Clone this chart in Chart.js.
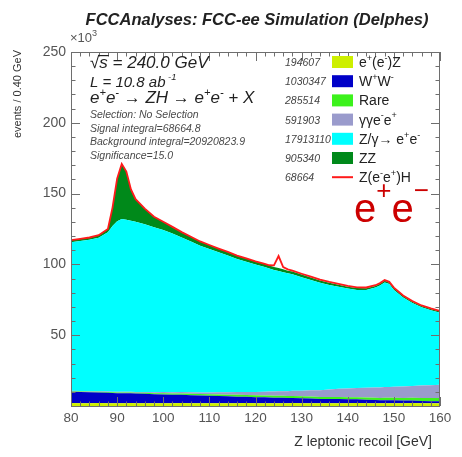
<!DOCTYPE html>
<html>
<head>
<meta charset="utf-8">
<title>Z leptonic recoil</title>
<script src="https://cdn.jsdelivr.net/npm/chart.js@4"></script>
<style>
  html, body { margin: 0; background: #fff; }
  canvas { display: block; }
</style>
</head>
<body>
<canvas id="recoilChart" width="462" height="457"></canvas>
<script>
"use strict";

// ---------------- DATA (events / 0.40 GeV, in units of 10^3) ----------------
const recoil = [
  80, 82, 84, 86, 88,
  89, 90, 91, 92, 93, 94,
  96, 98, 100, 102, 104, 106, 108, 110, 112, 114, 116, 118, 120, 122,
  123, 124, 125, 126, 127, 128,
  130, 132, 134, 136, 138, 140, 142, 144, 146,
  147, 148, 149, 150,
  152, 154, 156, 158, 160,
];

const eeZ = [
  2.1, 2.0, 2.0, 2.1, 2.0,
  2.0, 1.9, 2.0, 2.0, 2.1, 2.0,
  2.0, 1.9, 2.0, 2.0, 2.1, 2.0, 2.0, 1.9, 2.0, 2.0, 2.0, 2.1, 2.0, 2.0,
  2.0, 1.9, 2.0, 2.0, 2.0, 2.1,
  2.0, 2.0, 1.9, 2.0, 2.0, 2.0, 2.1, 2.0, 2.0,
  1.9, 2.0, 2.0, 2.0,
  2.0, 2.1, 2.0, 1.9, 2.0,
];

const wwPair = [
  8.0, 7.9, 7.7, 7.5, 7.3,
  7.2, 7.1, 7.0, 7.0, 6.9, 6.8,
  6.6, 6.4, 6.2, 6.0, 5.8, 5.6, 5.4, 5.3, 5.0, 4.8, 4.6, 4.4, 4.2, 4.1,
  4.0, 3.9, 3.9, 3.8, 3.7, 3.6,
  3.4, 3.3, 3.1, 3.0, 2.9, 2.7, 2.6, 2.5, 2.3,
  2.2, 2.1, 2.1, 2.0,
  1.8, 1.7, 1.6, 1.5, 1.4,
];

const rare = [
  0.4, 0.4, 0.4, 0.5, 0.5,
  0.5, 0.5, 0.5, 0.6, 0.6, 0.6,
  0.7, 0.7, 0.8, 0.8, 0.9, 1.0, 1.0, 1.1, 1.2, 1.2, 1.3, 1.3, 1.4, 1.4,
  1.4, 1.4, 1.4, 1.4, 1.4, 1.4,
  1.4, 1.4, 1.4, 1.4, 1.4, 1.4, 1.4, 1.5, 1.6,
  1.6, 1.7, 1.7, 1.8,
  1.9, 2.0, 2.1, 2.2, 2.3,
];

const gammaGamma = [
  0.3, 0.3, 0.4, 0.4, 0.4,
  0.4, 0.5, 0.5, 0.5, 0.5, 0.5,
  0.6, 0.7, 0.8, 0.9, 1.0, 1.1, 1.2, 1.3, 1.5, 1.7, 1.9, 2.1, 2.3, 2.6,
  2.8, 3.0, 3.1, 3.3, 3.4, 3.6,
  4.0, 4.4, 4.8, 5.3, 5.8, 6.2, 6.6, 6.9, 7.2,
  7.4, 7.6, 7.7, 7.8,
  8.1, 8.4, 8.7, 9.0, 9.3,
];

const drellYan = [
  104.8, 105.9, 106.9, 108.3, 112.5,
  117.0, 120.5, 122.0, 121.5, 120.8, 120.2,
  118.5, 116.5, 114.5, 112.2, 109.2, 106.4, 103.6, 101.3, 98.9, 96.6, 94.0, 92.0, 90.0, 88.0,
  86.9, 85.9, 85.0, 84.0, 83.2, 82.3,
  80.2, 77.9, 75.8, 73.8, 72.1, 70.6, 69.3, 69.0, 70.5,
  72.0, 73.8, 72.6, 68.4,
  62.8, 58.5, 55.3, 53.0, 50.9,
];

const zzPair = [
  1.5, 1.5, 1.6, 1.8, 2.3,
  13.0, 30.0, 39.0, 34.0, 22.0, 16.0,
  11.0, 7.5, 5.8, 4.6, 3.8, 3.4, 3.0, 2.8, 2.6, 2.5, 2.4, 2.3, 2.2, 2.1,
  2.1, 2.0, 2.0, 2.0, 1.9, 1.9,
  1.8, 1.7, 1.6, 1.5, 1.5, 1.4, 1.3, 1.3, 1.2,
  1.2, 1.2, 1.1, 1.1,
  1.0, 1.0, 0.9, 0.9, 0.8,
];

const zhSignal = [
  0, 0, 0, 0, 0,
  0, 0, 0, 0, 0, 0,
  0, 0, 0, 0, 0, 0, 0, 0, 0, 0, 0, 0, 0, 0.1,
  0.2, 1.2, 8.5, 1.6, 0.9, 0.7,
  0.6, 0.6, 0.6, 0.6, 0.6, 0.6, 0.5, 0.5, 0.5,
  0.5, 0.5, 0.5, 0.5,
  0.4, 0.4, 0.4, 0.4, 0.4,
];

const xTicks = [80, 90, 100, 110, 120, 130, 140, 150, 160];
const yTicks = [50, 100, 150, 200, 250];

// legend: [yield, label pieces] (pieces starting with ^ are superscripts)
const legendRows = [
  { n: "194607", label: ["e", "^+", "(e", "^-", ")Z"], color: "#cdef00" },
  { n: "1030347", label: ["W", "^+", "W", "^-"], color: "#0000c8" },
  { n: "285514", label: ["Rare"], color: "#3cf21c" },
  { n: "591903", label: ["\u03b3\u03b3e", "^-", "e", "^+"], color: "#9a9bcc" },
  { n: "17913110", label: ["Z/\u03b3\u2192 e", "^+", "e", "^-"], color: "#00ffff" },
  { n: "905340", label: ["ZZ"], color: "#00891a" },
  { n: "68664", label: ["Z(e", "^-", "e", "^+", ")H"], color: "#ff1a1a", line: true },
];

const FONT = '"Liberation Sans", Arial, Helvetica, sans-serif';

// ---------------- TEXT HELPERS ----------------
function drawRich(ctx, x, y, parts, size, style, supScale = 0.65, raise = 0.42) {
  for (const p of parts) {
    const sup = p.startsWith("^");
    const t = sup ? p.slice(1) : p;
    ctx.font = `${style} ${sup ? size * supScale : size}px ${FONT}`;
    ctx.fillText(t, x, sup ? y - size * raise : y);
    x += ctx.measureText(t).width;
  }
  return x;
}

// ---------------- FRAME, TICKS AND LABELS ----------------
const rootDecor = {
  id: "rootDecor",
  afterDraw(chart) {
    const { ctx, chartArea: a } = chart;
    const xs = chart.scales.x;
    const ys = chart.scales.y;
    ctx.save();

    // frame + inward ticks on all four sides
    ctx.strokeStyle = "#6e6e6e";
    ctx.lineWidth = 1;
    ctx.strokeRect(a.left + 0.5, a.top + 0.5, a.right - a.left - 1, a.bottom - a.top);
    ctx.beginPath();
    for (let v = 80; v <= 160; v += 2) {
      const px = Math.round(xs.getPixelForValue(v)) + 0.5;
      const len = v % 10 === 0 ? 9 : 4.5;
      ctx.moveTo(px, a.bottom);
      ctx.lineTo(px, a.bottom - len);
      ctx.moveTo(px, a.top);
      ctx.lineTo(px, a.top + len);
    }
    for (let v = 0; v <= 250; v += 10) {
      const py = Math.round(ys.getPixelForValue(v)) + 0.5;
      const len = v % 50 === 0 ? 9 : 4.5;
      ctx.moveTo(a.left, py);
      ctx.lineTo(a.left + len, py);
      ctx.moveTo(a.right, py);
      ctx.lineTo(a.right - len, py);
    }
    ctx.stroke();

    // title
    ctx.fillStyle = "#222";
    ctx.textAlign = "center";
    ctx.font = `bold italic 16.5px ${FONT}`;
    ctx.fillText("FCCAnalyses: FCC-ee Simulation (Delphes)", 257, 25);
    ctx.textAlign = "left";

    // axis exponent
    ctx.fillStyle = "#555";
    drawRich(ctx, 70, 42, ["\u00d710", "^3"], 13, "normal", 0.7, 0.45);

    // axis titles
    ctx.fillStyle = "#333";
    ctx.font = `14px ${FONT}`;
    ctx.textAlign = "right";
    ctx.fillText("Z leptonic recoil [GeV]", 432, 446);
    ctx.save();
    ctx.translate(21, 50);
    ctx.rotate(-Math.PI / 2);
    ctx.font = `11px ${FONT}`;
    ctx.fillText("events / 0.40 GeV", 0, 0);
    ctx.restore();
    ctx.textAlign = "left";

    // process text block
    ctx.fillStyle = "#222";
    ctx.font = `italic 17px ${FONT}`;
    ctx.fillText("\u221as = 240.0 GeV", 90, 68);
    const wRoot = ctx.measureText("\u221a").width;
    const wS = ctx.measureText("s").width;
    ctx.fillRect(90 + wRoot - 1, 55, wS + 2, 1.2);
    drawRich(ctx, 90, 86.5, ["L = 10.8 ab", "^ -1"], 15, "italic", 0.62, 0.45);
    drawRich(ctx, 90, 103,
      ["e", "^+", "e", "^-", " \u2192 ZH \u2192 e", "^+", "e", "^-", " + X"], 17, "italic");

    ctx.fillStyle = "#4a4a4a";
    ctx.font = `italic 10.5px ${FONT}`;
    ctx.fillText("Selection: No Selection", 90, 118);
    ctx.fillText("Signal integral=68664.8", 90, 131.5);
    ctx.fillText("Background integral=20920823.9", 90, 145);
    ctx.fillText("Significance=15.0", 90, 159);

    // legend
    legendRows.forEach((row, i) => {
      const cy = 62 + i * 19.2;
      ctx.fillStyle = "#444";
      ctx.font = `italic 10.5px ${FONT}`;
      ctx.fillText(row.n, 285, cy + 4);
      if (row.line) {
        ctx.strokeStyle = row.color;
        ctx.lineWidth = 2;
        ctx.beginPath();
        ctx.moveTo(332, cy);
        ctx.lineTo(353, cy);
        ctx.stroke();
      } else {
        ctx.fillStyle = row.color;
        ctx.fillRect(332, cy - 6, 21, 12);
      }
      ctx.fillStyle = "#222";
      drawRich(ctx, 359, cy + 5, row.label, 14, "normal", 0.65, 0.45);
    });

    // channel tag
    ctx.fillStyle = "#cc0000";
    drawRich(ctx, 354, 222, ["e", "^+", "e", "^\u2212"], 40, "normal", 0.65, 0.57);

    ctx.restore();
  },
};

// ---------------- STACKED HISTOGRAM ----------------
const stack = [
  { label: "e+(e-)Z", values: eeZ, color: "#cdef00" },
  { label: "W+W-", values: wwPair, color: "#0000c8" },
  { label: "Rare", values: rare, color: "#3cf21c" },
  { label: "gamma gamma e-e+", values: gammaGamma, color: "#9a9bcc" },
  { label: "Z/gamma -> e+e-", values: drellYan, color: "#00ffff" },
  { label: "ZZ", values: zzPair, color: "#00891a" },
];

const toPoints = (vals) => recoil.map((x, i) => ({ x, y: vals[i] }));

const datasets = stack.map((s, i) => ({
  label: s.label,
  data: toPoints(s.values),
  backgroundColor: s.color,
  borderColor: s.color,
  borderWidth: 0,
  pointRadius: 0,
  tension: 0,
  fill: i === 0 ? "origin" : "-1",
}));

datasets.push({
  label: "Z(e-e+)H",
  data: toPoints(zhSignal),
  borderColor: "#ff1a1a",
  borderWidth: 1.8,
  pointRadius: 0,
  tension: 0,
  fill: false,
});

new Chart(document.getElementById("recoilChart"), {
  type: "line",
  data: { datasets },
  options: {
    responsive: false,
    animation: false,
    layout: { padding: { top: 52, right: 22, left: 0, bottom: 0 } },
    plugins: {
      legend: { display: false },
      tooltip: { enabled: false },
      filler: { drawTime: "beforeDatasetsDraw" },
    },
    scales: {
      x: {
        type: "linear",
        min: 80,
        max: 160,
        grid: { display: false, drawTicks: false },
        border: { display: false },
        afterBuildTicks: (s) => { s.ticks = xTicks.map((v) => ({ value: v })); },
        afterFit: (s) => { s.height = 51; },
        ticks: {
          autoSkip: false,
          maxRotation: 0,
          padding: 4,
          color: "#555",
          font: { family: FONT, size: 13.5 },
        },
      },
      y: {
        stacked: true,
        min: 0,
        max: 250,
        grid: { display: false, drawTicks: false },
        border: { display: false },
        afterBuildTicks: (s) => { s.ticks = yTicks.map((v) => ({ value: v })); },
        afterFit: (s) => { s.width = 71; },
        ticks: {
          padding: 5,
          color: "#555",
          font: { family: FONT, size: 14 },
        },
      },
    },
  },
  plugins: [rootDecor],
});
</script>
</body>
</html>
